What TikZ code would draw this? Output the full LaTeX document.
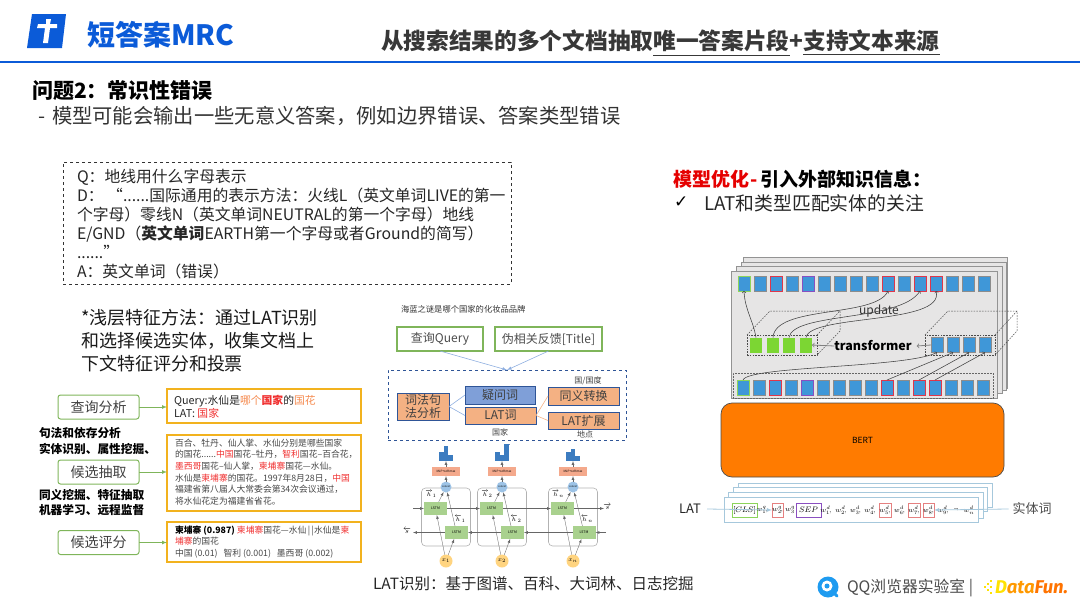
\documentclass[tikz,border=0pt]{standalone}
\usepackage{amsmath, amsfonts, amssymb}
\usepackage{fontspec}
\setmainfont{Noto Sans CJK SC}
\newfontfamily\symfont{DejaVu Sans}
\newfontfamily\brandfont{Fira Sans}
\usetikzlibrary{shapes.geometric, positioning}

\definecolor{headblue}{HTML}{0B5BD8}
\definecolor{linegreen}{HTML}{7FB55A}
\definecolor{boxyellow}{HTML}{F2B21E}
\definecolor{textred}{HTML}{F03030}
\definecolor{textorange}{HTML}{F58B50}
\definecolor{boxorange}{HTML}{F4B183}
\definecolor{boxblue}{HTML}{7F9FD8}
\definecolor{edgeblue}{HTML}{2F5597}
\definecolor{thinblue}{HTML}{8FAFE0}
\definecolor{sqblue}{HTML}{3F97D8}
\definecolor{sheetgray}{HTML}{E6E5E5}
\definecolor{bertorange}{HTML}{FF7B00}
\definecolor{lightline}{HTML}{A6C8DC}
\definecolor{lstmgreen}{HTML}{A9D18E}
\definecolor{softred}{HTML}{F4A98C}
\definecolor{concatblue}{HTML}{9DC3E6}
\definecolor{inputyellow}{HTML}{FFD480}
\definecolor{barblue}{HTML}{3C7CC0}
\definecolor{qqblue}{HTML}{1E9BF0}
\definecolor{squaregreen}{HTML}{7CD633}
\definecolor{edgegreen}{HTML}{8CD45A}
\definecolor{edgepurple}{HTML}{8A4FC0}
\definecolor{edgered}{HTML}{E0364A}
\definecolor{softredge}{HTML}{E58080}

\newcommand{\fsz}[2]{\fontsize{#1}{#2}\selectfont}
\newcommand{\redtxt}[1]{\textcolor{textred}{#1}}
\newcommand{\orgtxt}[1]{\textcolor{textorange}{#1}}

\tikzset{
    txt/.style={anchor=west, align=left},
    flowbox/.style={draw=linegreen, rounded corners=2.5pt, line width=1pt, minimum width=81, minimum height=24, text=black!75, font=\fsz{14}{16}},
    yellowbox/.style={draw=boxyellow, line width=1.2pt, minimum width=194},
    flowarrow/.style={draw=linegreen, line width=0.7pt, -latex},
    sidetxt/.style={txt, font=\fsz{11.7}{15.5}\bfseries},
    greenbox/.style={draw=linegreen, line width=1.1pt, minimum height=24, text=black!70, font=\fsz{12}{14}},
    blockbox/.style={draw=edgeblue, line width=1pt, fill=boxorange, text=black!75, align=center, font=\fsz{12}{13.5}},
    thinarrow/.style={draw=thinblue, line width=0.6pt},
    orgline/.style={draw=boxorange, line width=0.6pt},
    cell/.style={draw=gray!60, rounded corners=4pt, line width=0.6pt, minimum width=49, minimum height=58},
    lstm/.style={fill=lstmgreen, minimum width=23, minimum height=13, font=\fsz{3.5}{4}},
    softmax/.style={fill=softred, minimum width=28, minimum height=9, font=\fsz{3}{4}},
    concat/.style={circle, fill=concatblue, minimum size=11, font=\fsz{2.5}{3}},
    inputnode/.style={circle, fill=inputyellow, minimum size=13, font=\fsz{6.5}{7}},
    lstmarrow/.style={draw=black!60, line width=0.35pt, -latex},
    bar/.style={fill=barblue, anchor=south, minimum width=4.5},
    sheet/.style={draw=gray!85, fill=sheetgray, line width=0.7pt, anchor=north west},
    bsq/.style={fill=sqblue, draw=black!45, line width=0.5pt, minimum width=12, minimum height=15},
    rsq/.style={bsq, draw=edgered, line width=0.8pt},
    psq/.style={bsq, draw=edgepurple, line width=0.8pt},
    lsq/.style={bsq, draw=edgegreen, line width=0.8pt},
    gsq/.style={fill=squaregreen, minimum width=12, minimum height=15},
    dashbox/.style={draw=black!70, line width=0.5pt, dash pattern=on 1.6pt off 1.2pt},
    curvearrow/.style={draw=black!75, line width=0.55pt, ->},
    grayarrow/.style={draw=gray, line width=0.8pt, ->},
    lightsheet/.style={draw=lightline, fill=white, line width=0.8pt, anchor=north west},
    tokentxt/.style={font=\fsz{7.5}{8}},
    tokenbox/.style={line width=0.8pt, minimum height=14},
    lightarrow/.style={draw=lightline, line width=0.8pt, -latex},
}

\begin{document}
\begin{tikzpicture}[x=1pt, y=-1pt, every node/.style={inner sep=0pt, outer sep=0pt}]
    \useasboundingbox (0,0) rectangle (1080,608);

    % Header
    \fill[headblue] (32,14) -- (66,14) -- (62,48) -- (27,48) -- cycle;
    \fill[white] (46,19) -- (51,19) -- (50,24) -- (57,24) -- (57,28) -- (50,28) -- (48,43) -- (43,43) -- (45,28) -- (37,28) -- (38,24) -- (46,24) -- cycle;
    \node[txt, text=headblue, font=\fsz{28}{30}\bfseries] (brand) at (87,35) {短答案MRC};
    \node[txt, text=black!78, font=\fsz{22.7}{26}\bfseries] (headline) at (381,43) {从搜索结果的多个文档抽取\underline{唯一答案片段}+\underline{支持文本来源}};
    \draw[headblue, line width=1.8pt] (0,62) -- (1080,62);

    % Problem text
    \node[txt, font=\fsz{21}{24}\bfseries] (problem) at (32,91) {问题2^^^^ff1a常识性错误};
    \node[txt, text=black!80, font=\fsz{20.3}{24}] (problemsub) at (38,116) {-\hspace{7pt}模型可能会输出一些无意义答案^^^^ff0c例如边界错误、答案类型错误};

    % Question box
    \node[draw=black!80, dashed, line width=0.6pt, minimum width=448, minimum height=122] (qbox) at (287,223) {};
    \node[txt, text=black!85, font=\fsz{15.8}{19}] (qtext) at (77,224.5) {Q^^^^ff1a地线用什么字母表示\\D^^^^ff1a “......国际通用的表示方法^^^^ff1a火线L^^^^ff08英文单词LIVE的第一\\个字母^^^^ff09零线N^^^^ff08英文单词NEUTRAL的第一个字母^^^^ff09地线\\E/GND^^^^ff08\textbf{英文单词}EARTH第一个字母或者Ground的简写^^^^ff09\\......”\\A^^^^ff1a英文单词^^^^ff08错误^^^^ff09};

    % Optimisation text
    \node[txt, font=\fsz{19}{22}\bfseries] (optim) at (673,179) {\textcolor{red!90!black}{模型优化\hspace{2pt}-\hspace{2pt}}引入外部知识信息^^^^ff1a};
    \node[txt, font=\fsz{17}{20}\symfont] (check) at (674,202) {✓};
    \node[txt, text=black!85, font=\fsz{18.8}{22}] (optimsub) at (704,203) {LAT和类型匹配实体的关注};

    % Shallow method text
    \node[txt, text=black!90, font=\fsz{18}{23}] (shallow) at (81,341) {*浅层特征方法^^^^ff1a通过LAT识别\\和选择候选实体^^^^ff0c收集文档上\\下文特征评分和投票};

    % Flow nodes
    \node[flowbox] (ask) at (98.5,407) {查询分析};
    \node[flowbox] (cand) at (98.5,472) {候选抽取};
    \node[flowbox] (score) at (98.5,542.5) {候选评分};
    \node[yellowbox, minimum height=34] (askres) at (264,406) {};
    \node[yellowbox, minimum height=76] (candres) at (264,473) {};
    \node[yellowbox, minimum height=40] (scoreres) at (264,542) {};
    \node[sidetxt] (sidea) at (39,441) {句法和依存分析\\实体识别、属性挖掘、};
    \node[sidetxt] (sideb) at (39,502.5) {同义挖掘、特征抽取\\机器学习、远程监督};
    \node[txt, text=black!85, font=\fsz{10.8}{13}] (asktxt) at (174,406.5) {Query:水仙是\orgtxt{哪个}\redtxt{\textbf{国家}}的\orgtxt{国花}\\LAT: \redtxt{国家}};
    \node[txt, text=black!72, font=\fsz{8.8}{11.7}] (candtxt) at (175,472) {百合、牡丹、仙人掌、水仙分别是哪些国家\\的国花......\redtxt{中国}国花--牡丹^^^^ff0c\redtxt{智利}国花--百合花^^^^ff0c\\\redtxt{墨西哥}国花--仙人掌^^^^ff0c\redtxt{柬埔寨}国花—水仙。\\水仙是\redtxt{柬埔寨}的国花。1997年8月28日^^^^ff0c\redtxt{中国}\\福建省第八届人大常委会第34次会议通过^^^^ff0c\\将水仙花定为福建省省花。};
    \node[txt, text=black!72, font=\fsz{8.8}{11.3}] (scoretxt) at (175,542) {\textbf{\textcolor{black}{柬埔寨 (0.987)}} \redtxt{柬埔寨}国花—水仙\,|\,|水仙是\redtxt{柬}\\\redtxt{埔寨}的国花\\中国 (0.01)\ \ \ 智利 (0.001)\ \ \ 墨西哥 (0.002)};

    % Flow edges
    \draw[flowarrow] (ask) -- (ask -| askres.west);
    \draw[flowarrow] (cand) -- (cand -| candres.west);
    \draw[flowarrow] (score) -- (score -| scoreres.west);

    % Query block nodes
    \node[txt, text=black!80, font=\fsz{8.3}{10}] (title) at (401,309) {海蓝之谜是哪个国家的化妆品品牌};
    \node[greenbox, minimum width=86] (query) at (440,339) {查询Query};
    \node[greenbox, minimum width=107] (feedback) at (548.5,339) {伪相关反馈[Title]};
    \node[draw=edgeblue, dashed, line width=0.8pt, minimum width=238, minimum height=70] (blockarea) at (507,405) {};
    \coordinate (blocktop) at (507,370);
    \node[blockbox, minimum width=52, minimum height=27] (lexical) at (423,406.5) {词法句\\法分析};
    \node[blockbox, fill=boxblue, minimum width=70, minimum height=18] (wh) at (500,395) {疑问词};
    \node[blockbox, minimum width=71, minimum height=17] (latword) at (500.5,415.5) {LAT词};
    \node[blockbox, minimum width=71, minimum height=18] (synonym) at (583.5,396) {同义转换};
    \node[blockbox, minimum width=71, minimum height=17] (latext) at (583.5,420.5) {LAT扩展};
    \node[text=black!75, font=\fsz{8}{10}] (lblcountry) at (588,381) {国/国度};
    \node[text=black!75, font=\fsz{8}{10}] (lblnation) at (500,432) {国家};
    \node[text=black!75, font=\fsz{8}{10}] (lblplace) at (585,434) {地点};
    \draw[edgeblue!70, line width=0.7pt] (504,444.5) -- (510,444.5);

    % Query block edges
    \draw[thinarrow, -latex] (query.south) -- (blocktop);
    \draw[thinarrow, -latex] (feedback.south) -- (blocktop);
    \draw[thinarrow] (lexical.east) -- (wh.west);
    \draw[thinarrow] (lexical.east) -- (latword.west);
    \draw[orgline] (latword.east) -- (synonym.west);
    \draw[orgline] (latword.east) -- (latext.west);

    % LSTM nodes
    \foreach \n/\cx/\ux/\lx/\lab in {1/446/435.5/456.5/1, 2/502/491.5/512.5/2, 3/573/562.5/584/n} {
        \node[cell] (cell\n) at (\cx,517) {};
        \node[lstm] (up\n) at (\ux,508.5) {LSTM};
        \node[lstm] (low\n) at (\lx,532.5) {LSTM};
        \node[concat] (cat\n) at (\cx,487) {concat};
        \node[softmax] (soft\n) at (\cx,471.5) {MLP+softmax};
        \node[inputnode] (x\n) at (\cx,561) {$x_{\lab}$};
        \node[font=\fsz{6.5}{7}] (hf\n) at ({\cx-15},494) {$\overrightarrow{h}_{\lab}$};
        \node[font=\fsz{6.5}{7}] (hb\n) at ({\cx+14},519) {$\overleftarrow{h}_{\lab}$};
        % Edges
        \draw[lstmarrow] (x\n) -- (up\n);
        \draw[lstmarrow] (x\n) -- (low\n);
        \draw[lstmarrow] (up\n) -- (cat\n);
        \draw[lstmarrow] (low\n) -- (cat\n);
        \draw[lstmarrow] (cat\n) -- (soft\n);
    }
    \foreach \n/\cx/\ha/\hb/\hc in {1/446/9/15/6, 2/502/9/6/17, 3/573/9/12/5} {
        \node[bar, minimum height=\ha] (bara\n) at ({\cx-4.5},461) {};
        \node[bar, minimum height=\hb] (barb\n) at (\cx,461) {};
        \node[bar, minimum height=\hc] (barc\n) at ({\cx+4.5},461) {};
        \draw[lstmarrow] (soft\n) -- (barb\n);
    }
    \coordinate (fwin) at (413,508.5);
    \coordinate (fwout) at (604,508.5);
    \coordinate (bwin) at (606,532.5);
    \coordinate (bwout) at (413,532.5);
    \node[font=\fsz{7}{8}] (sfw) at (607.5,507) {$\overrightarrow{s}$};
    \node[font=\fsz{7}{8}] (sbw) at (407,531) {$\overleftarrow{s}$};
    \draw[lstmarrow] (fwin) -- (up1);
    \draw[lstmarrow] (up1) -- (up2);
    \draw[lstmarrow] (up2) -- (up3);
    \draw[lstmarrow] (up3) -- (fwout);
    \draw[lstmarrow] (bwin) -- (low3);
    \draw[lstmarrow] (low3) -- (low2);
    \draw[lstmarrow] (low2) -- (low1);
    \draw[lstmarrow] (low1) -- (bwout);

    \node[txt, text=black!85, font=\fsz{15.5}{18}] (lattxt) at (373,584) {LAT识别^^^^ff1a基于图谱、百科、大词林、日志挖掘};

    % Sheets
    \node[sheet, minimum width=264, minimum height=131] (sheetd) at (743,257) {};
    \node[sheet, minimum width=265, minimum height=128] (sheetc) at (741,262) {};
    \node[sheet, minimum width=266, minimum height=127] (sheetb) at (736,266) {};
    \node[sheet, minimum width=266, minimum height=127] (sheeta) at (731,271) {};

    % Token rows
    \foreach \i/\s in {0/lsq,1/bsq,2/rsq,3/bsq,4/psq,5/bsq,6/bsq,7/bsq,8/bsq,9/rsq,10/bsq,11/rsq,12/rsq,13/bsq,14/bsq,15/bsq} {
        \node[\s] (top\i) at ({744+16*\i},283.5) {};
        \node[\s] (bot\i) at ({743+16*\i},387.5) {};
    }
    \node[draw=black!60, densely dotted, line width=0.5pt, minimum width=260, minimum height=25] (botarea) at (863,385.5) {};

    % Transformer nodes
    \foreach \i/\cx in {0/756,1/773,2/789,3/806} {
        \node[gsq] (gr\i) at (\cx,345) {};
    }
    \foreach \i/\cx in {0/937,1/953,2/969,3/985} {
        \node[bsq] (blu\i) at (\cx,345) {};
    }
    \node[dashbox, minimum width=70, minimum height=20] (grbox) at (782,345) {};
    \node[dashbox, minimum width=70, minimum height=20] (blubox) at (960,345) {};
    \coordinate (grbacka) at (770,311);
    \coordinate (grbackb) at (840,311);
    \coordinate (grbackc) at (840,331);
    \coordinate (blubacka) at (948,311);
    \coordinate (blubackb) at (1017,311);
    \coordinate (blubackc) at (1017,331);
    \node[font=\fsz{12.5}{14}\bfseries] (transformer) at (873,346) {transformer};
    \node[text=black!80, font=\fsz{12}{14}] (update) at (879,311) {update};

    % Transformer edges
    \draw[dashbox] (grbox.north west) -- (grbacka) -- (grbackb) -- (grbackc) -- (grbox.south east);
    \draw[dashbox] (grbox.north east) -- (grbackb);
    \draw[dashbox] (blubox.north west) -- (blubacka) -- (blubackb) -- (blubackc) -- (blubox.south east);
    \draw[dashbox] (blubox.north east) -- (blubackb);
    \draw[grayarrow] (transformer.west) -- (gr3.east);
    \draw[grayarrow] (blu0.west) -- ([xshift=5]transformer.east);
    \draw[curvearrow] (gr0.north) .. controls (753,320) and (745,310) .. (top0.south);
    \draw[curvearrow] (gr1.north) .. controls (775,305) and (875,318) .. (top9.south);
    \draw[curvearrow] (gr2.north) .. controls (793,312) and (900,322) .. (top11.south);
    \draw[curvearrow] (gr3.north) .. controls (810,314) and (945,325) .. (top12.south);
    \draw[curvearrow] (bot0.north) .. controls (748,366) and (905,368) .. (blu0.south);
    \draw[curvearrow] (bot9.north) -- (blu1.south);
    \draw[curvearrow] (bot11.north) -- (blu2.south);
    \draw[curvearrow] (bot12.north) -- (blu3.south);

    % BERT
    \node[draw=black!70, fill=bertorange, rounded corners=11pt, line width=0.7pt, minimum width=283, minimum height=74, font=\fsz{8.5}{10}] (bert) at (862.5,440) {BERT};

    % Input sheets
    \node[lightsheet, minimum width=254, minimum height=24] (inputd) at (738,483) {};
    \node[lightsheet, minimum width=254, minimum height=24] (inputc) at (733,487) {};
    \node[lightsheet, minimum width=255, minimum height=26] (inputb) at (728,492) {};
    \node[lightsheet, minimum width=254, minimum height=25] (inputa) at (724,497) {};
    \node[tokenbox, draw=edgegreen, minimum width=25] (cls) at (744.5,510) {};
    \node[tokenbox, draw=softredge, minimum width=11] (boxqtwo) at (777.5,510) {};
    \node[tokenbox, draw=edgepurple, minimum width=25] (sep) at (808.5,510) {};
    \node[tokenbox, draw=softredge, minimum width=12] (boxdfive) at (885,510) {};
    \node[tokenbox, draw=softredge, minimum width=12] (boxdseven) at (914,510) {};
    \node[tokenbox, draw=softredge, minimum width=11] (boxdeight) at (928.5,510) {};
    \node[font=\fsz{8}{9}] (clstxt) at (744.5,510) {$[CLS]$};
    \node[font=\fsz{8}{9}] (septxt) at (808.5,510) {$SEP$};
    \foreach \nm/\cx/\tok in {qa/762/{w^q_1\!,}, qb/777.5/{w^q_2\!,}, qc/790/{w^q_3}, da/826/{w^d_1\!,}, db/841/{w^d_2\!,}, dc/855.5/{w^d_3\!,}, dd/870/{w^d_4\!,}, de/885/{w^d_5\!,}, df/899.5/{w^d_6\!,}, dg/914/{w^d_7\!,}, dh/928.5/{w^d_8\!,}, di/943/{w^d_9\!,}, dj/956/{.\!.\!.\!,}, dk/969/{w^d_n}} {
        \node[tokentxt] (tok\nm) at (\cx,510) {$\tok$};
    }
    \node[text=black!85, font=\fsz{13}{15}] (latlabel) at (690,509) {LAT};
    \node[text=black!70, font=\fsz{13}{15}] (entitylabel) at (1032,509) {实体词};
    \draw[lightarrow] (latlabel.east) ++(6,0) -- (boxqtwo.west);
    \draw[lightarrow] (entitylabel.west) ++(-4,0) -- (boxdeight.east);

    % Footer logos
    \node[circle, fill=qqblue, minimum size=21] (qqicon) at (828,587) {};
    \node[circle, fill=white, minimum size=11] (qqring) at (827,586) {};
    \node[circle, fill=qqblue, minimum size=5] (qqdot) at (827,586) {};
    \draw[qqblue, line width=3pt, line cap=round] (832,591) -- (837,596);
    \node[txt, text=black!70, font=\fsz{15.8}{18}] (qqtxt) at (847,588) {QQ浏览器实验室 |};
    \node[txt, font=\fsz{18.5}{20}\brandfont\bfseries\itshape] (datafun) at (995,587) {\textcolor{yellow!85!orange}{D}\textcolor{orange!80!yellow}{ata}\textcolor{orange!90!red}{Fun.}};
    \foreach \i/\dx/\dy in {a/985/587, b/988/584, c/988/590, d/991/581, e/991/587, f/991/593} {
        \node[fill=yellow!85!orange, minimum size=1.6] (dot\i) at (\dx,\dy) {};
    }
\end{tikzpicture}
\end{document}
